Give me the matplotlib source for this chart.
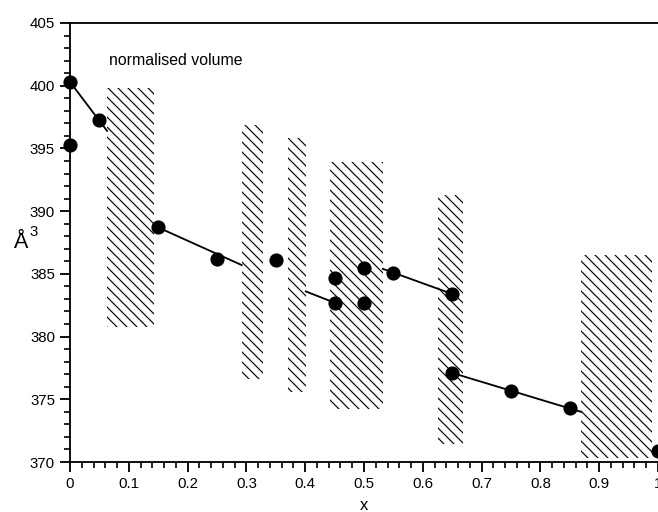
import matplotlib
matplotlib.use("Agg")
import matplotlib.pyplot as plt
from matplotlib.ticker import MultipleLocator

# measured compositions and normalised volumes
x_pts = [0.0, 0.0, 0.05, 0.15, 0.25, 0.35, 0.45, 0.45, 0.5, 0.5, 0.55, 0.65, 0.65, 0.75, 0.85, 1.0]
vol_pts = [400.3, 395.3, 397.3, 388.7, 386.2, 386.1, 384.7, 382.7, 385.5, 382.7, 385.1, 383.4, 377.1, 375.7, 374.3, 370.9]

# fitted line segments (start, end) between the two-phase regions
seg_x = [[0.0, 0.063], [0.15, 0.292], [0.401, 0.45], [0.532, 0.65], [0.65, 0.869]]
seg_v = [[400.3, 396.4], [388.7, 385.7], [383.6, 382.7], [385.4, 383.4], [377.1, 374.0]]

# hatched (two-phase) regions
hatch_x0 = [0.063, 0.292, 0.370, 0.442, 0.626, 0.869]
hatch_x1 = [0.143, 0.328, 0.401, 0.532, 0.668, 0.989]
hatch_lo = [380.8, 376.6, 375.6, 374.2, 371.4, 370.3]
hatch_hi = [399.8, 396.9, 395.8, 393.9, 391.3, 386.5]

plt.rcParams['font.family'] = ['Liberation Sans', 'DejaVu Sans']
plt.rcParams['hatch.linewidth'] = 0.7

dpi = 120
fig = plt.figure(figsize=(658 / dpi, 512 / dpi), dpi=dpi)
ax = fig.add_axes([70 / 658, 1 - 462 / 512, 588 / 658, 439 / 512])

for x0, x1, lo, hi in zip(hatch_x0, hatch_x1, hatch_lo, hatch_hi):
    ax.bar(x0, hi - lo, width=x1 - x0, bottom=lo, align='edge',
           facecolor='none', edgecolor='black', linewidth=0,
           hatch='\\\\\\\\', zorder=1)

for sx, sv in zip(seg_x, seg_v):
    ax.plot(sx, sv, color='black', lw=1.1, zorder=2)

ax.plot(x_pts, vol_pts, 'o', color='black', markersize=7.5, zorder=3, clip_on=False)

ax.set_xlim(0, 1)
ax.set_ylim(370, 405)
ax.xaxis.set_minor_locator(MultipleLocator(0.02))
ax.yaxis.set_major_locator(MultipleLocator(5))
ax.yaxis.set_minor_locator(MultipleLocator(1))
ax.set_xticks([i / 10 for i in range(11)])
ax.set_xticklabels(['0', '0.1', '0.2', '0.3', '0.4', '0.5', '0.6', '0.7', '0.8', '0.9', '1'])
ax.tick_params(which='major', direction='out', length=6, width=1.1, labelsize=9, pad=3)
ax.tick_params(which='minor', direction='out', length=3.5, width=1.0)
ax.spines['right'].set_visible(False)
for s in ['left', 'bottom', 'top']:
    ax.spines[s].set_linewidth(1.1)

ax.set_xlabel('x', fontsize=10, labelpad=4)
fig.text(20 / 658, 1 - 242 / 512, 'Å', fontsize=13, ha='center', va='center')
fig.text(29 / 658, 1 - 232 / 512, '3', fontsize=9, ha='left', va='center')
ax.text(0.066, 402.0, 'normalised volume', fontsize=9.5, va='center', ha='left')

fig.savefig('out.png', dpi=dpi)
